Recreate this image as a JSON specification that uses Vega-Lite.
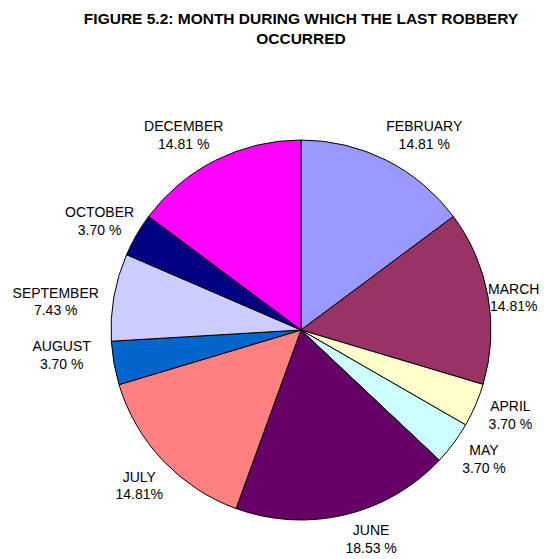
{
  "$schema": "https://vega.github.io/schema/vega-lite/v6.json",
  "autosize": "none",
  "padding": {"left": 0, "top": 60, "right": 0, "bottom": 0},
  "width": 602,
  "height": 540,
  "background": "white",
  "title": {
    "text": ["FIGURE 5.2: MONTH DURING WHICH THE LAST ROBBERY", "OCCURRED"],
    "anchor": "middle",
    "font": "Liberation Sans",
    "fontSize": 15.5,
    "fontWeight": "bold",
    "lineHeight": 20,
    "color": "black",
    "offset": 13
  },
  "data": {
    "values": [
      {"idx": 1, "month": "FEBRUARY", "pct": 14.81, "pctLabel": "14.81 %"},
      {"idx": 2, "month": "MARCH", "pct": 14.81, "pctLabel": "14.81%"},
      {"idx": 3, "month": "APRIL", "pct": 3.70, "pctLabel": "3.70 %"},
      {"idx": 4, "month": "MAY", "pct": 3.70, "pctLabel": "3.70 %"},
      {"idx": 5, "month": "JUNE", "pct": 18.53, "pctLabel": "18.53 %"},
      {"idx": 6, "month": "JULY", "pct": 14.81, "pctLabel": "14.81%"},
      {"idx": 7, "month": "AUGUST", "pct": 3.70, "pctLabel": "3.70 %"},
      {"idx": 8, "month": "SEPTEMBER", "pct": 7.43, "pctLabel": "7.43 %"},
      {"idx": 9, "month": "OCTOBER", "pct": 3.70, "pctLabel": "3.70 %"},
      {"idx": 10, "month": "DECEMBER", "pct": 14.81, "pctLabel": "14.81 %"}
    ]
  },
  "encoding": {
    "theta": {"field": "pct", "type": "quantitative", "stack": true},
    "order": {"field": "idx", "type": "quantitative"}
  },
  "layer": [
    {
      "mark": {"type": "arc", "radius": 190, "stroke": "black", "strokeWidth": 1},
      "encoding": {
        "color": {
          "field": "month",
          "type": "nominal",
          "scale": {
            "domain": ["FEBRUARY", "MARCH", "APRIL", "MAY", "JUNE", "JULY", "AUGUST", "SEPTEMBER", "OCTOBER", "DECEMBER"],
            "range": ["#9999FF", "#993366", "#FFFFCC", "#CCFFFF", "#660066", "#FF8080", "#0066CC", "#CCCCFF", "#000080", "#FF00FF"]
          },
          "legend": null
        }
      }
    },
    {
      "mark": {
        "type": "text",
        "radius": {"expr": "datum.month === 'MARCH' ? 215 : datum.month === 'SEPTEMBER' ? 246 : datum.month === 'AUGUST' ? 240 : datum.month === 'JUNE' ? 221 : 228"},
        "dx": {"expr": "datum.month === 'FEBRUARY' ? 21 : datum.month === 'MARCH' ? 1 : datum.month === 'JUNE' ? 19 : datum.month === 'JULY' ? 4 : datum.month === 'AUGUST' ? -3 : datum.month === 'SEPTEMBER' ? -3 : datum.month === 'OCTOBER' ? -4 : datum.month === 'DECEMBER' ? -15 : 0"},
        "dy": {"expr": "-8.75 + (datum.month === 'FEBRUARY' ? 10 : datum.month === 'MARCH' ? 6 : datum.month === 'APRIL' ? -4 : datum.month === 'MAY' ? -6 : datum.month === 'JUNE' ? -5 : datum.month === 'AUGUST' ? -16 : datum.month === 'SEPTEMBER' ? 15 : datum.month === 'OCTOBER' ? 6 : datum.month === 'DECEMBER' ? 10 : 0)"},
        "font": "Liberation Sans", "fontSize": 14, "color": "black", "align": "center", "baseline": "middle"
      },
      "encoding": {"text": {"field": "month", "type": "nominal"}}
    },
    {
      "mark": {
        "type": "text",
        "radius": {"expr": "datum.month === 'MARCH' ? 215 : datum.month === 'SEPTEMBER' ? 246 : datum.month === 'AUGUST' ? 240 : datum.month === 'JUNE' ? 221 : 228"},
        "dx": {"expr": "datum.month === 'FEBRUARY' ? 21 : datum.month === 'MARCH' ? 1 : datum.month === 'JUNE' ? 19 : datum.month === 'JULY' ? 4 : datum.month === 'AUGUST' ? -3 : datum.month === 'SEPTEMBER' ? -3 : datum.month === 'OCTOBER' ? -4 : datum.month === 'DECEMBER' ? -15 : 0"},
        "dy": {"expr": "8.75 + (datum.month === 'FEBRUARY' ? 10 : datum.month === 'MARCH' ? 6 : datum.month === 'APRIL' ? -4 : datum.month === 'MAY' ? -6 : datum.month === 'JUNE' ? -5 : datum.month === 'AUGUST' ? -16 : datum.month === 'SEPTEMBER' ? 15 : datum.month === 'OCTOBER' ? 6 : datum.month === 'DECEMBER' ? 10 : 0)"},
        "font": "Liberation Sans", "fontSize": 14, "color": "black", "align": "center", "baseline": "middle"
      },
      "encoding": {"text": {"field": "pctLabel", "type": "nominal"}}
    }
  ],
  "config": {"view": {"stroke": null}}
}
